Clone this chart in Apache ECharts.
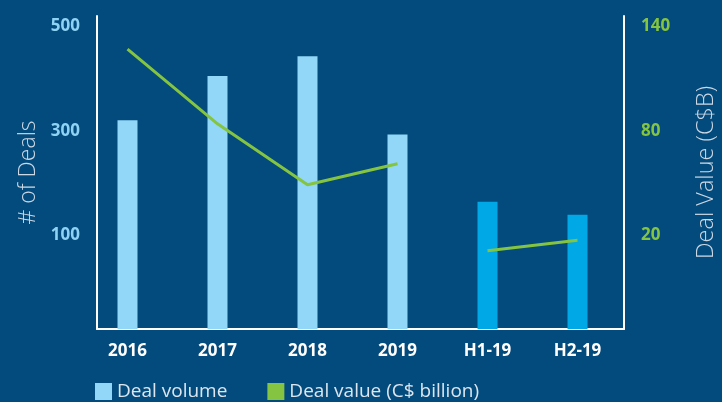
<!DOCTYPE html>
<html>
<head>
<meta charset="utf-8">
<script src="https://cdn.jsdelivr.net/npm/echarts@6/dist/echarts.min.js"></script>
<style>
  html, body { margin: 0; padding: 0; background: #034a7d; }
  #chart { width: 722px; height: 402px; }
</style>
</head>
<body>
<div id="chart"></div>
<script>
const categories = ['2016', '2017', '2018', '2019', 'H1-19', 'H2-19'];
const dealVolume = [320, 405, 443, 293, 164, 139];
// line is broken between full years and halves
const dealValueYears = [127, 84, 49, 61, null, null];
const dealValueHalves = [null, null, null, null, 11, 17];
const leftTicks = [100, 300, 500];
const rightTicks = [20, 80, 140];

const BG = '#034a7d';
const LIGHT_BLUE = '#92d7f7';
const BRIGHT_BLUE = '#00a9e6';
const GREEN = '#84c441';
const FONT = '"Open Sans", sans-serif';

const chart = echarts.init(document.getElementById('chart'), null, { renderer: 'canvas' });

const leftRange = { min: -80, max: 520, interval: 20 };
const rightRange = { min: -34, max: 146, interval: 2 };

const hiddenAxis = {
  axisLine: { show: false }, axisTick: { show: false },
  axisLabel: { show: false }, splitLine: { show: false }
};

chart.setOption({
  backgroundColor: BG,
  animation: false,
  textStyle: { fontFamily: FONT },
  grid: [
    // frame with axis lines
    { left: 97, right: 98, top: 16, bottom: 73, outerBoundsMode: 'none' },
    // data area
    { left: 127.5, right: 144.5, top: 16, bottom: 73, outerBoundsMode: 'none' }
  ],
  legend: {
    left: 95,
    top: 382,
    padding: 0,
    itemWidth: 17,
    itemHeight: 17,
    itemGap: 40,
    icon: 'rect',
    data: ['Deal volume', 'Deal value (C$ billion)'],
    textStyle: { color: '#dde6ee', fontSize: 19, fontFamily: FONT }
  },
  xAxis: [
    {
      gridIndex: 0,
      type: 'category',
      data: categories,
      axisLine: { show: true, onZero: false, lineStyle: { color: '#ffffff', width: 2 } },
      axisTick: { show: false },
      axisLabel: { show: false },
      splitLine: { show: false }
    },
    {
      gridIndex: 1,
      type: 'category',
      data: categories,
      boundaryGap: false,
      axisLine: { show: false },
      axisTick: { show: false },
      splitLine: { show: false },
      axisLabel: {
        color: '#ffffff', fontSize: 17, fontWeight: 'bold', margin: 14,
        fontFamily: FONT
      }
    }
  ],
  yAxis: [
    {
      gridIndex: 0,
      type: 'value',
      position: 'left',
      ...leftRange,
      name: '# of Deals',
      nameLocation: 'middle',
      nameGap: 57,
      nameTextStyle: { color: '#ccd8e4', fontSize: 23, fontWeight: 300, fontFamily: FONT },
      axisLine: { show: true, lineStyle: { color: '#ffffff', width: 2 } },
      axisTick: { show: false },
      splitLine: { show: false },
      axisLabel: {
        color: '#8fd3f4', fontSize: 17, fontWeight: 'bold', margin: 17, fontFamily: FONT,
        formatter: v => leftTicks.includes(v) ? String(v) : ''
      }
    },
    {
      gridIndex: 0,
      type: 'value',
      position: 'right',
      ...rightRange,
      name: 'Deal Value (C$B)',
      nameLocation: 'middle',
      nameGap: 70,
      nameTextStyle: { color: '#ccd8e4', fontSize: 23.5, fontWeight: 300, fontFamily: FONT },
      axisLine: { show: true, lineStyle: { color: '#ffffff', width: 2 } },
      axisTick: { show: false },
      splitLine: { show: false },
      axisLabel: {
        color: GREEN, fontSize: 17, fontWeight: 'bold', margin: 17, fontFamily: FONT,
        formatter: v => rightTicks.includes(v) ? String(v) : ''
      }
    },
    { gridIndex: 1, type: 'value', position: 'left', ...leftRange, startValue: leftRange.min, ...hiddenAxis },
    { gridIndex: 1, type: 'value', position: 'right', ...rightRange, ...hiddenAxis }
  ],
  series: [
    {
      name: 'Deal volume',
      type: 'bar',
      xAxisIndex: 1,
      yAxisIndex: 2,
      barWidth: 20,
      color: LIGHT_BLUE,
      data: dealVolume.map((v, i) => ({
        value: v,
        itemStyle: { color: categories[i].startsWith('H') ? BRIGHT_BLUE : LIGHT_BLUE }
      }))
    },
    {
      name: 'Deal value (C$ billion)',
      type: 'line',
      xAxisIndex: 1,
      yAxisIndex: 3,
      color: GREEN,
      showSymbol: false,
      symbol: 'none',
      lineStyle: { color: GREEN, width: 3 },
      data: dealValueYears
    },
    {
      name: 'Deal value (C$ billion)',
      type: 'line',
      xAxisIndex: 1,
      yAxisIndex: 3,
      color: GREEN,
      showSymbol: false,
      symbol: 'none',
      lineStyle: { color: GREEN, width: 3 },
      data: dealValueHalves
    }
  ]
});
</script>
</body>
</html>
